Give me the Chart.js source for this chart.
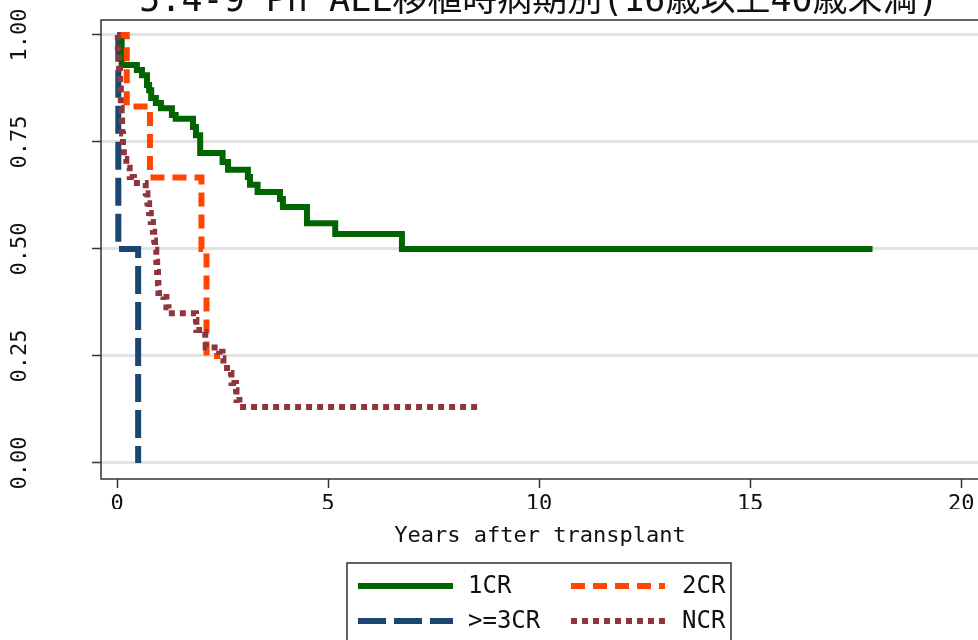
<!DOCTYPE html>
<html>
<head>
<meta charset="utf-8">
<script src="https://cdn.jsdelivr.net/npm/chart.js@4/dist/chart.umd.min.js"></script>
<style>
  html, body { margin: 0; padding: 0; background: #fff; overflow: hidden; }
  #wrap { width: 1000px; height: 640px; }
</style>
</head>
<body>
<div id="wrap"><canvas id="kmChart" width="1000" height="640"></canvas></div>
<script>
// Texts and ticks
const titleText = '5.4-9 Ph ALL移植時病期別(16歳以上40歳未満)';
const xTitleText = 'Years after transplant';
const xTickValues = [0, 5, 10, 15, 20];
const yTickValues = [0, 0.25, 0.5, 0.75, 1];

// Kaplan-Meier steps (years, survival)
const cr1Years = [0, 0.11, 0.47, 0.59, 0.71, 0.76, 0.81, 0.92, 1.04, 1.30, 1.39, 1.80, 1.87, 1.97, 2.50, 2.63, 3.10, 3.15, 3.33, 3.86, 3.93, 4.50, 5.17, 6.75, 17.9];
const cr1Surv  = [1, 0.93, 0.918, 0.906, 0.883, 0.871, 0.853, 0.841, 0.829, 0.813, 0.804, 0.785, 0.766, 0.724, 0.703, 0.685, 0.668, 0.65, 0.633, 0.617, 0.598, 0.56, 0.535, 0.50, 0.50];

const cr2Years = [0, 0.23, 0.78, 2.00, 2.12, 2.44];
const cr2Surv  = [1, 0.833, 0.667, 0.5, 0.25, 0.25];

const cr3Years = [0, 0.03, 0.50];
const cr3Surv  = [1, 0.5, 0];

const ncrYears = [0, 0.02, 0.05, 0.07, 0.09, 0.11, 0.12, 0.14, 0.16, 0.22, 0.30, 0.40, 0.68, 0.72, 0.76, 0.80, 0.85, 0.88, 0.90, 0.93, 0.95, 0.97, 0.98, 1.10, 1.17, 1.22, 1.87, 1.88, 2.08, 2.09, 2.10, 2.42, 2.50, 2.52, 2.70, 2.71, 2.82, 2.83, 2.90, 8.58];
const ncrSurv  = [1, 0.96, 0.92, 0.875, 0.83, 0.80, 0.77, 0.74, 0.71, 0.69, 0.668, 0.654, 0.63, 0.607, 0.584, 0.563, 0.54, 0.52, 0.498, 0.47, 0.446, 0.42, 0.397, 0.388, 0.364, 0.35, 0.334, 0.311, 0.306, 0.283, 0.27, 0.26, 0.245, 0.222, 0.21, 0.187, 0.17, 0.147, 0.131, 0.131];

function toPoints(xs, ys) {
  return xs.map((x, i) => ({ x: x, y: ys[i] }));
}

const monoFont = '"DejaVu Sans Mono", "Noto Sans CJK JP", monospace';

// title, frame, rotated y labels, x title and legend box
const decorPlugin = {
  id: 'decor',
  afterDraw(chart) {
    const ctx = chart.ctx;
    const area = chart.chartArea;
    ctx.save();

    ctx.strokeStyle = '#333';
    ctx.lineWidth = 1.5;
    ctx.strokeRect(area.left, area.top, area.right - area.left, area.bottom - area.top);

    ctx.fillStyle = '#111';
    ctx.textAlign = 'center';
    ctx.textBaseline = 'alphabetic';
    ctx.font = '35px ' + monoFont;
    ctx.fillText(titleText, 539, 11);

    const yScale = chart.scales.y;
    ctx.font = '22px ' + monoFont;
    yTickValues.forEach(v => {
      const py = yScale.getPixelForValue(v);
      ctx.save();
      ctx.translate(20, py);
      ctx.rotate(-Math.PI / 2);
      ctx.textBaseline = 'middle';
      ctx.fillText(v.toFixed(2), 0, 0);
      ctx.restore();
    });

    ctx.textBaseline = 'middle';
    ctx.fillText(xTitleText, 540, 536);

    // legend
    ctx.strokeStyle = '#333';
    ctx.lineWidth = 1.5;
    ctx.strokeRect(347, 563, 384, 100);
    const lineX0 = [358, 571], lineX1 = [453, 665], labelX = [468, 682], rowY = [586, 621];
    ctx.textAlign = 'left';
    ctx.font = '24px ' + monoFont;
    chart.data.datasets.forEach((ds, i) => {
      const col = i % 2, row = Math.floor(i / 2);
      ctx.save();
      ctx.strokeStyle = ds.borderColor;
      ctx.lineWidth = ds.borderWidth;
      ctx.lineCap = 'butt';
      ctx.setLineDash(ds.borderDash || []);
      ctx.beginPath();
      ctx.moveTo(lineX0[col], rowY[row]);
      ctx.lineTo(lineX1[col], rowY[row]);
      ctx.stroke();
      ctx.restore();
      ctx.fillText(ds.label, labelX[col], rowY[row] + 1);
    });

    ctx.restore();
  }
};

function makeDataset(label, xs, ys, color, dash, order) {
  return {
    label: label,
    data: toPoints(xs, ys),
    borderColor: color,
    backgroundColor: color,
    borderWidth: 6,
    borderDash: dash,
    borderCapStyle: 'butt',
    borderJoinStyle: 'miter',
    stepped: 'before',
    pointRadius: 0,
    fill: false,
    order: order
  };
}

const ctx = document.getElementById('kmChart').getContext('2d');
new Chart(ctx, {
  type: 'line',
  data: {
    datasets: [
      makeDataset('1CR', cr1Years, cr1Surv, '#006400', [], 3),
      makeDataset('2CR', cr2Years, cr2Surv, '#ff4500', [14, 8], 2),
      makeDataset('>=3CR', cr3Years, cr3Surv, '#1a476f', [28, 8], 4),
      makeDataset('NCR', ncrYears, ncrSurv, '#90353b', [6, 5], 1)
    ]
  },
  options: {
    responsive: false,
    animation: false,
    layout: { padding: { top: 20, right: 0, bottom: 131, left: 0 } },
    plugins: {
      legend: { display: false },
      tooltip: { enabled: false }
    },
    scales: {
      x: {
        type: 'linear',
        min: -0.38,
        max: 20.92,
        afterBuildTicks: s => { s.ticks = xTickValues.map(v => ({ value: v })); },
        afterFit: s => { s.height = 30; },
        border: { display: false },
        grid: { drawOnChartArea: false, drawTicks: true, tickLength: 9, tickColor: '#333', tickWidth: 1.5 },
        ticks: { font: { family: monoFont, size: 22 }, color: '#111', padding: 3, maxRotation: 0, autoSkip: false }
      },
      y: {
        type: 'linear',
        min: -0.0374,
        max: 1.035,
        afterBuildTicks: s => { s.ticks = yTickValues.map(v => ({ value: v })); },
        afterFit: s => { s.width = 101; },
        border: { display: false },
        grid: { color: '#e2e2e2', lineWidth: 3, drawTicks: true, tickLength: 9, tickColor: '#333', tickWidth: 1.5 },
        ticks: { display: false }
      }
    }
  },
  plugins: [decorPlugin]
});
</script>
</body>
</html>
